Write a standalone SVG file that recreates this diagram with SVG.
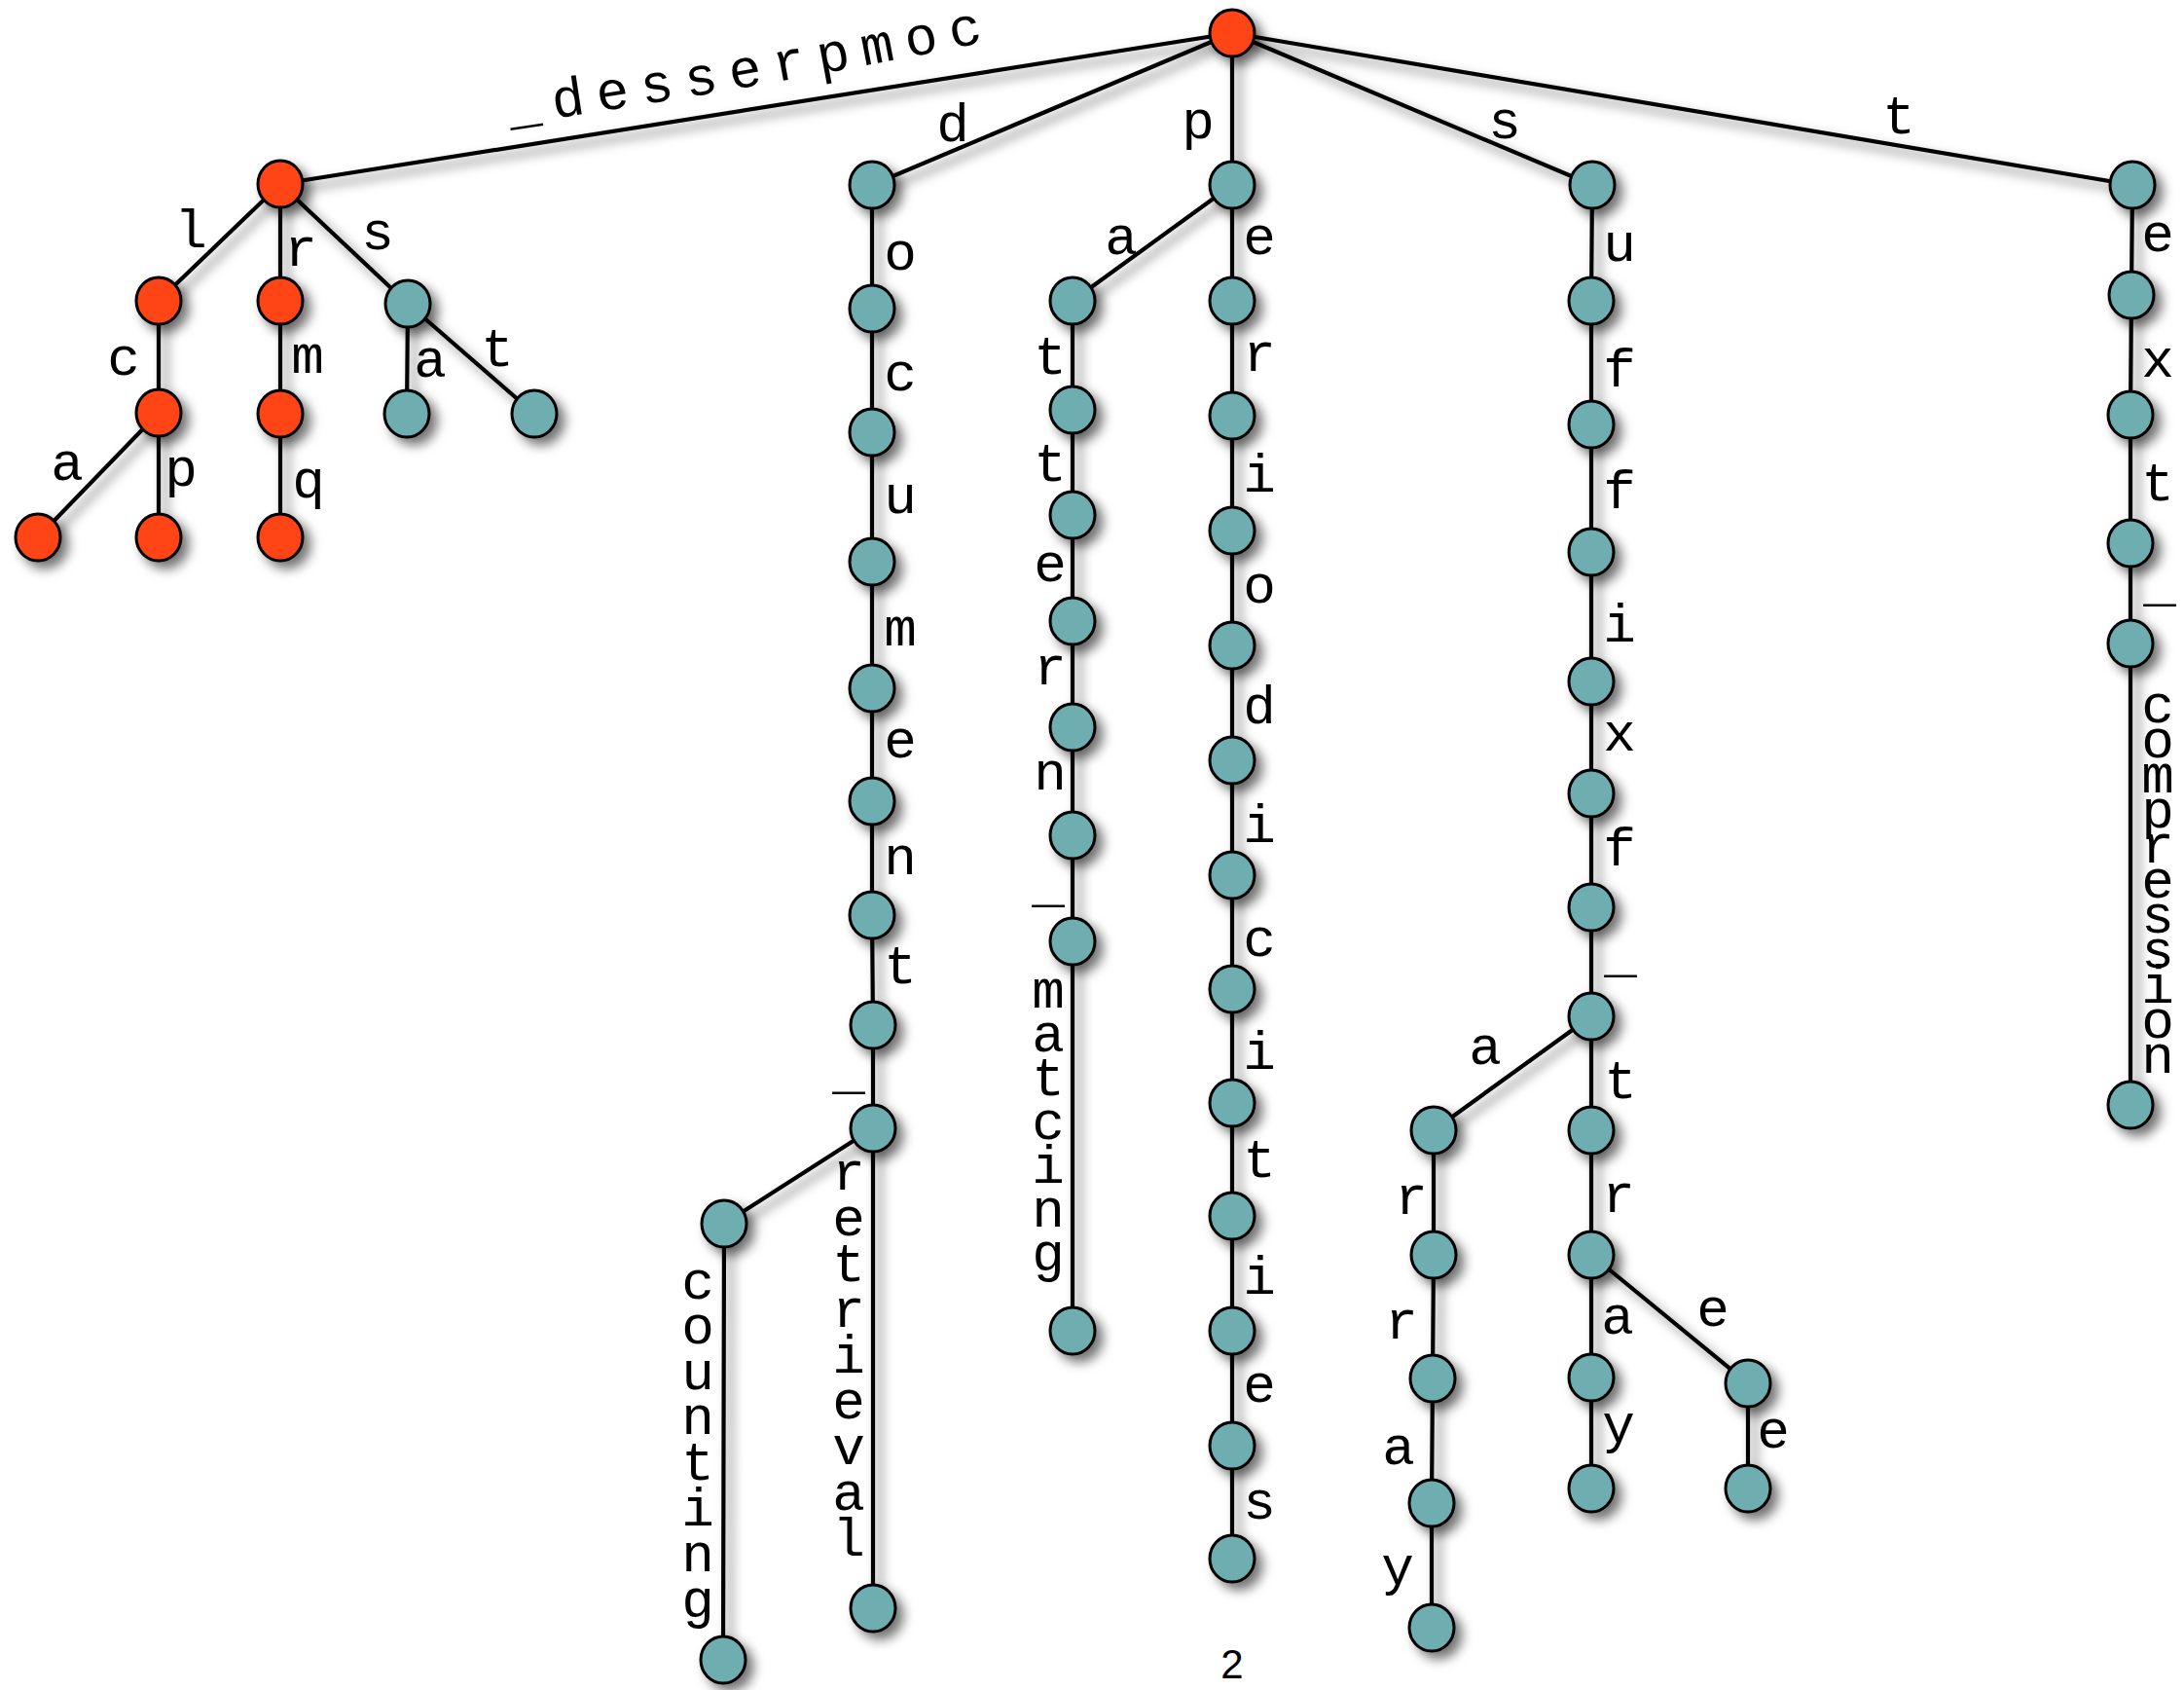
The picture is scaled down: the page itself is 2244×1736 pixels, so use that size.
<svg xmlns="http://www.w3.org/2000/svg" width="2244" height="1736" viewBox="0 0 2244 1736">
<defs>
<style>
.e{stroke:#000;stroke-width:4.2;fill:none;stroke-linecap:round;stroke-linejoin:round}
.r{fill:#FF4516;stroke:#000;stroke-width:3}
.t{fill:#6EADB0;stroke:#000;stroke-width:3}
.l{font-family:"Liberation Mono","Courier New",monospace;font-size:56px;fill:#000;text-anchor:middle}
.pg{font-family:"Liberation Sans",Arial,sans-serif;font-size:42px;fill:#000;text-anchor:middle}
</style>
<filter id="sh" x="-20%" y="-20%" width="140%" height="140%">
<feDropShadow dx="7" dy="7" stdDeviation="6" flood-color="#000" flood-opacity="0.55"/>
</filter>
<path id="arc" d="M 524 128 Q 770 93 1022 41 L 1080 29"/>
</defs>
<rect width="2244" height="1736" fill="#fff"/>
<g id="connectors" class="e" filter="url(#sh)">
<line x1="1266" y1="34" x2="288" y2="189"/>
<line x1="1266" y1="34" x2="896" y2="190"/>
<line x1="1266" y1="34" x2="1266" y2="190"/>
<line x1="1266" y1="34" x2="1636" y2="190"/>
<line x1="1266" y1="34" x2="2191" y2="190"/>
<line x1="288" y1="189" x2="163" y2="309"/>
<line x1="288" y1="189" x2="288" y2="309"/>
<line x1="288" y1="189" x2="419" y2="312"/>
<line x1="163" y1="309" x2="163" y2="424"/>
<line x1="288" y1="309" x2="288" y2="425"/>
<line x1="419" y1="312" x2="418" y2="425"/>
<line x1="419" y1="312" x2="549" y2="425"/>
<line x1="163" y1="424" x2="39" y2="552"/>
<line x1="163" y1="424" x2="163" y2="552"/>
<line x1="288" y1="425" x2="288" y2="552"/>
<polyline points="896,190 896,317 896,444 896,577 896,707 896,823 896,940 897,1053 897,1159 897,1652"/>
<polyline points="897,1159 744,1257 743,1705"/>
<polyline points="1266,190 1266,309 1266,427 1266,545 1266,663 1266,781 1266,899 1266,1016 1266,1133 1266,1249 1266,1367 1266,1485 1266,1601"/>
<polyline points="1266,190 1102,309 1102,421 1102,529 1102,638 1102,747 1102,858 1102,967 1102,1367"/>
<polyline points="1636,190 1635,309 1635,436 1635,567 1635,700 1635,815 1635,932 1635,1044 1635,1161 1635,1289 1635,1415 1635,1529"/>
<polyline points="1635,1044 1473,1161 1473,1289 1472,1416 1471,1544 1471,1672"/>
<polyline points="1635,1289 1796,1421 1796,1529"/>
<polyline points="2191,190 2190,303 2189,426 2189,558 2189,661 2189,1135"/>
</g>
<g id="nodes" filter="url(#sh)">
<g id="root"><ellipse class="r" cx="1266" cy="34" rx="23" ry="24"/></g>
<g id="n_A"><ellipse class="r" cx="288" cy="189" rx="23" ry="24"/></g>
<g id="n_L"><ellipse class="r" cx="163" cy="309" rx="23" ry="24"/></g>
<g id="n_R"><ellipse class="r" cx="288" cy="309" rx="23" ry="24"/></g>
<g id="n_S"><ellipse class="t" cx="419" cy="312" rx="23" ry="24"/></g>
<g id="n_C"><ellipse class="r" cx="163" cy="424" rx="23" ry="24"/></g>
<g id="n_M"><ellipse class="r" cx="288" cy="425" rx="23" ry="24"/></g>
<g id="n_Sa"><ellipse class="t" cx="418" cy="425" rx="23" ry="24"/></g>
<g id="n_St"><ellipse class="t" cx="549" cy="425" rx="23" ry="24"/></g>
<g id="n_Ca"><ellipse class="r" cx="39" cy="552" rx="23" ry="24"/></g>
<g id="n_Cp"><ellipse class="r" cx="163" cy="552" rx="23" ry="24"/></g>
<g id="n_Mq"><ellipse class="r" cx="288" cy="552" rx="23" ry="24"/></g>
<g id="d0"><ellipse class="t" cx="896" cy="190" rx="23" ry="24"/></g>
<g id="d1"><ellipse class="t" cx="896" cy="317" rx="23" ry="24"/></g>
<g id="d2"><ellipse class="t" cx="896" cy="444" rx="23" ry="24"/></g>
<g id="d3"><ellipse class="t" cx="896" cy="577" rx="23" ry="24"/></g>
<g id="d4"><ellipse class="t" cx="896" cy="707" rx="23" ry="24"/></g>
<g id="d5"><ellipse class="t" cx="896" cy="823" rx="23" ry="24"/></g>
<g id="d6"><ellipse class="t" cx="896" cy="940" rx="23" ry="24"/></g>
<g id="d7"><ellipse class="t" cx="897" cy="1053" rx="23" ry="24"/></g>
<g id="d8"><ellipse class="t" cx="897" cy="1159" rx="23" ry="24"/></g>
<g id="d_ret"><ellipse class="t" cx="897" cy="1652" rx="23" ry="24"/></g>
<g id="d_cnt"><ellipse class="t" cx="744" cy="1257" rx="23" ry="24"/></g>
<g id="d_cnt2"><ellipse class="t" cx="743" cy="1705" rx="23" ry="24"/></g>
<g id="p0"><ellipse class="t" cx="1266" cy="190" rx="23" ry="24"/></g>
<g id="p1"><ellipse class="t" cx="1266" cy="309" rx="23" ry="24"/></g>
<g id="p2"><ellipse class="t" cx="1266" cy="427" rx="23" ry="24"/></g>
<g id="p3"><ellipse class="t" cx="1266" cy="545" rx="23" ry="24"/></g>
<g id="p4"><ellipse class="t" cx="1266" cy="663" rx="23" ry="24"/></g>
<g id="p5"><ellipse class="t" cx="1266" cy="781" rx="23" ry="24"/></g>
<g id="p6"><ellipse class="t" cx="1266" cy="899" rx="23" ry="24"/></g>
<g id="p7"><ellipse class="t" cx="1266" cy="1016" rx="23" ry="24"/></g>
<g id="p8"><ellipse class="t" cx="1266" cy="1133" rx="23" ry="24"/></g>
<g id="p9"><ellipse class="t" cx="1266" cy="1249" rx="23" ry="24"/></g>
<g id="p10"><ellipse class="t" cx="1266" cy="1367" rx="23" ry="24"/></g>
<g id="p11"><ellipse class="t" cx="1266" cy="1485" rx="23" ry="24"/></g>
<g id="p12"><ellipse class="t" cx="1266" cy="1601" rx="23" ry="24"/></g>
<g id="pa1"><ellipse class="t" cx="1102" cy="309" rx="23" ry="24"/></g>
<g id="pa2"><ellipse class="t" cx="1102" cy="421" rx="23" ry="24"/></g>
<g id="pa3"><ellipse class="t" cx="1102" cy="529" rx="23" ry="24"/></g>
<g id="pa4"><ellipse class="t" cx="1102" cy="638" rx="23" ry="24"/></g>
<g id="pa5"><ellipse class="t" cx="1102" cy="747" rx="23" ry="24"/></g>
<g id="pa6"><ellipse class="t" cx="1102" cy="858" rx="23" ry="24"/></g>
<g id="pa7"><ellipse class="t" cx="1102" cy="967" rx="23" ry="24"/></g>
<g id="pa8"><ellipse class="t" cx="1102" cy="1367" rx="23" ry="24"/></g>
<g id="s0"><ellipse class="t" cx="1636" cy="190" rx="23" ry="24"/></g>
<g id="s1"><ellipse class="t" cx="1635" cy="309" rx="23" ry="24"/></g>
<g id="s2"><ellipse class="t" cx="1635" cy="436" rx="23" ry="24"/></g>
<g id="s3"><ellipse class="t" cx="1635" cy="567" rx="23" ry="24"/></g>
<g id="s4"><ellipse class="t" cx="1635" cy="700" rx="23" ry="24"/></g>
<g id="s5"><ellipse class="t" cx="1635" cy="815" rx="23" ry="24"/></g>
<g id="s6"><ellipse class="t" cx="1635" cy="932" rx="23" ry="24"/></g>
<g id="s7"><ellipse class="t" cx="1635" cy="1044" rx="23" ry="24"/></g>
<g id="st1"><ellipse class="t" cx="1635" cy="1161" rx="23" ry="24"/></g>
<g id="st2"><ellipse class="t" cx="1635" cy="1289" rx="23" ry="24"/></g>
<g id="st3"><ellipse class="t" cx="1635" cy="1415" rx="23" ry="24"/></g>
<g id="st4"><ellipse class="t" cx="1635" cy="1529" rx="23" ry="24"/></g>
<g id="se1"><ellipse class="t" cx="1796" cy="1421" rx="23" ry="24"/></g>
<g id="se2"><ellipse class="t" cx="1796" cy="1529" rx="23" ry="24"/></g>
<g id="sa1"><ellipse class="t" cx="1473" cy="1161" rx="23" ry="24"/></g>
<g id="sa2"><ellipse class="t" cx="1473" cy="1289" rx="23" ry="24"/></g>
<g id="sa3"><ellipse class="t" cx="1472" cy="1416" rx="23" ry="24"/></g>
<g id="sa4"><ellipse class="t" cx="1471" cy="1544" rx="23" ry="24"/></g>
<g id="sa5"><ellipse class="t" cx="1471" cy="1672" rx="23" ry="24"/></g>
<g id="t0"><ellipse class="t" cx="2191" cy="190" rx="23" ry="24"/></g>
<g id="t1"><ellipse class="t" cx="2190" cy="303" rx="23" ry="24"/></g>
<g id="t2"><ellipse class="t" cx="2189" cy="426" rx="23" ry="24"/></g>
<g id="t3"><ellipse class="t" cx="2189" cy="558" rx="23" ry="24"/></g>
<g id="t4"><ellipse class="t" cx="2189" cy="661" rx="23" ry="24"/></g>
<g id="t5"><ellipse class="t" cx="2189" cy="1135" rx="23" ry="24"/></g>
</g>
<g id="labels" class="l">
<text text-anchor="start" letter-spacing="12.5"><textPath href="#arc">_desserpmoc</textPath></text>
<text x="979" y="145">d</text>
<text x="1231" y="142">p</text>
<text x="1546" y="142">s</text>
<text x="1951" y="137">t</text>
<text x="196" y="254">l</text>
<text x="309" y="273">r</text>
<text x="388" y="256">s</text>
<text x="127" y="385">c</text>
<text x="316" y="383">m</text>
<text x="442" y="387">a</text>
<text x="511" y="376">t</text>
<text x="69" y="493">a</text>
<text x="186" y="499">p</text>
<text x="317" y="511">q</text>
<text x="925" y="277">o</text>
<text x="925" y="401">c</text>
<text x="925" y="527">u</text>
<text x="925" y="663">m</text>
<text x="925" y="778">e</text>
<text x="925" y="898">n</text>
<text x="925" y="1010">t</text>
<text x="872" y="1118">_</text>
<text><tspan x="717" y="1334">c</tspan><tspan x="717" y="1380">o</tspan><tspan x="717" y="1427">u</tspan><tspan x="717" y="1473">n</tspan><tspan x="717" y="1520">t</tspan><tspan x="717" y="1567">i</tspan><tspan x="717" y="1614">n</tspan><tspan x="717" y="1661">g</tspan></text>
<text><tspan x="872" y="1222">r</tspan><tspan x="872" y="1269">e</tspan><tspan x="872" y="1316">t</tspan><tspan x="872" y="1363">r</tspan><tspan x="872" y="1410">i</tspan><tspan x="872" y="1457">e</tspan><tspan x="872" y="1504">v</tspan><tspan x="872" y="1551">a</tspan><tspan x="872" y="1598">l</tspan></text>
<text x="1152" y="261">a</text>
<text x="1294" y="261">e</text>
<text x="1294" y="381">r</text>
<text x="1294" y="505">i</text>
<text x="1294" y="619">o</text>
<text x="1294" y="743">d</text>
<text x="1294" y="865">i</text>
<text x="1294" y="982">c</text>
<text x="1294" y="1098">i</text>
<text x="1294" y="1209">t</text>
<text x="1294" y="1329">i</text>
<text x="1294" y="1440">e</text>
<text x="1294" y="1560">s</text>
<text x="1079" y="384">t</text>
<text x="1079" y="494">t</text>
<text x="1079" y="597">e</text>
<text x="1079" y="703">r</text>
<text x="1079" y="811">n</text>
<text x="1077" y="926">_</text>
<text><tspan x="1077" y="1035">m</tspan><tspan x="1077" y="1080">a</tspan><tspan x="1077" y="1125">t</tspan><tspan x="1077" y="1170">c</tspan><tspan x="1077" y="1215">i</tspan><tspan x="1077" y="1260">n</tspan><tspan x="1077" y="1305">g</tspan></text>
<text x="1664" y="268">u</text>
<text x="1664" y="397">f</text>
<text x="1664" y="522">f</text>
<text x="1664" y="659">i</text>
<text x="1664" y="771">x</text>
<text x="1664" y="889">f</text>
<text x="1665" y="998">_</text>
<text x="1526" y="1093">a</text>
<text x="1665" y="1128">t</text>
<text x="1450" y="1247">r</text>
<text x="1440" y="1375">r</text>
<text x="1437" y="1504">a</text>
<text x="1436" y="1627">y</text>
<text x="1663" y="1245">r</text>
<text x="1662" y="1370">a</text>
<text x="1663" y="1481">y</text>
<text x="1760" y="1362">e</text>
<text x="1822" y="1487">e</text>
<text x="2217" y="258">e</text>
<text x="2217" y="387">x</text>
<text x="2217" y="514">t</text>
<text x="2219" y="617">_</text>
<text><tspan x="2217" y="742">c</tspan><tspan x="2217" y="778">o</tspan><tspan x="2217" y="814">m</tspan><tspan x="2217" y="850">p</tspan><tspan x="2217" y="886">r</tspan><tspan x="2217" y="922">e</tspan><tspan x="2217" y="958">s</tspan><tspan x="2217" y="994">s</tspan><tspan x="2217" y="1030">i</tspan><tspan x="2217" y="1066">o</tspan><tspan x="2217" y="1102">n</tspan></text>
</g>
<text class="pg" x="1266" y="1724">2</text>
</svg>
